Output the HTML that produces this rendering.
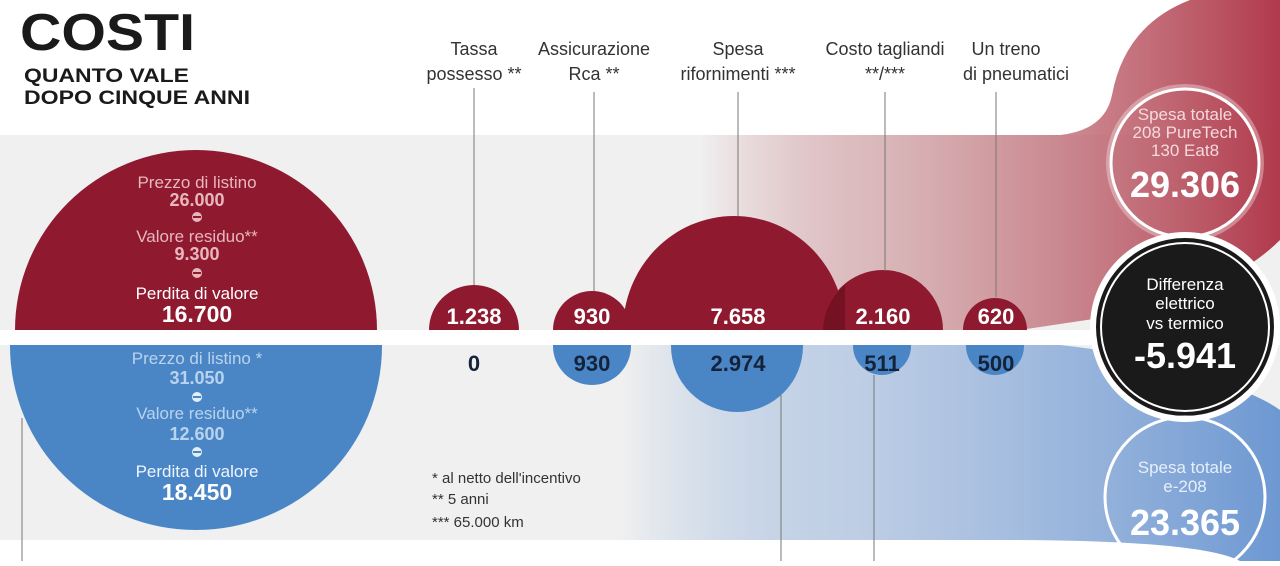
<!DOCTYPE html>
<html><head><meta charset="utf-8"><style>
body{margin:0;width:1280px;height:561px;overflow:hidden;background:#fff;font-family:"Liberation Sans",sans-serif}
</style></head><body>
<svg width="1280" height="561" viewBox="0 0 1280 561" xmlns="http://www.w3.org/2000/svg" font-family="Liberation Sans, sans-serif">
<defs>
<linearGradient id="rg" x1="0" x2="1"><stop offset="0" stop-color="#b8505c" stop-opacity="0"/><stop offset="0.3" stop-color="#c88c90" stop-opacity="0.55"/><stop offset="1" stop-color="#b13a4c"/></linearGradient>
<linearGradient id="bg" x1="0" x2="1"><stop offset="0" stop-color="#6f9bd3" stop-opacity="0"/><stop offset="0.35" stop-color="#aac0e0" stop-opacity="0.7"/><stop offset="1" stop-color="#6d98d2"/></linearGradient>
</defs>
<rect x="0" y="135" width="1280" height="405" fill="#f0f0f0"/>
<path d="M700 135 L1060 135 Q1105 130 1112 95 Q1125 25 1190 0 L1280 0 L1280 240 Q1230 290 1120 315 L1020 330 L700 330 Z" fill="url(#rg)"/>
<path d="M620 345 L1060 345 Q1150 355 1200 375 Q1260 395 1280 410 L1280 561 L1240 561 Q1200 540 1000 540 L620 540 Z" fill="url(#bg)"/>
<rect x="0" y="330" width="1280" height="15" fill="#fff"/>
<clipPath id="top"><rect x="0" y="0" width="1280" height="330"/></clipPath>
<clipPath id="bot"><rect x="0" y="345" width="1280" height="216"/></clipPath>
<g clip-path="url(#top)" fill="#8f1a30">
<ellipse cx="196" cy="330" rx="181" ry="180"/>
<circle cx="474" cy="330" r="45"/>
<circle cx="592" cy="330" r="39"/>
<ellipse cx="734" cy="330" rx="111" ry="114"/>
<circle cx="883" cy="330" r="60"/>
<circle cx="995" cy="330" r="32"/>
</g>
<g clip-path="url(#top)" fill="#5a0a18" opacity="0.5"><path d="M823 330 A60 60 0 0 1 845 285 L845 330Z"/></g>
<g clip-path="url(#bot)" fill="#4a86c6">
<ellipse cx="196" cy="346" rx="186" ry="184"/>
<circle cx="592" cy="346" r="39"/>
<circle cx="737" cy="346" r="66"/>
<circle cx="882" cy="346" r="29"/>
<circle cx="995" cy="346" r="29"/>
</g>
<g stroke="#777" stroke-width="1">
<line x1="474" y1="88" x2="474" y2="285"/><line x1="594" y1="92" x2="594" y2="291"/>
<line x1="738" y1="92" x2="738" y2="216"/><line x1="885" y1="92" x2="885" y2="271"/>
<line x1="996" y1="92" x2="996" y2="297"/>
<line x1="22" y1="418" x2="22" y2="561"/><line x1="781" y1="395" x2="781" y2="561"/><line x1="874" y1="375" x2="874" y2="561"/>
</g>
<text x="20" y="50" font-size="52" font-weight="bold" fill="#1a1a1a" textLength="175" lengthAdjust="spacingAndGlyphs">COSTI</text>
<text x="24" y="82" font-size="19" font-weight="bold" fill="#1a1a1a" textLength="165" lengthAdjust="spacingAndGlyphs">QUANTO VALE</text>
<text x="24" y="104" font-size="19" font-weight="bold" fill="#1a1a1a" textLength="226" lengthAdjust="spacingAndGlyphs">DOPO CINQUE ANNI</text>
<g font-size="18" fill="#333" text-anchor="middle">
<text x="474" y="55">Tassa</text><text x="474" y="80">possesso **</text>
<text x="594" y="55">Assicurazione</text><text x="594" y="80">Rca **</text>
<text x="738" y="55">Spesa</text><text x="738" y="80">rifornimenti ***</text>
<text x="885" y="55">Costo tagliandi</text><text x="885" y="80">**/***</text>
<text x="1006" y="55">Un treno</text><text x="1016" y="80">di pneumatici</text>
</g>
<g text-anchor="middle" fill="#e8b7bd" font-size="17">
<text x="197" y="188">Prezzo di listino</text>
<text x="197" y="206" font-weight="bold" font-size="18">26.000</text>
<text x="197" y="242">Valore residuo**</text>
<text x="197" y="260" font-weight="bold" font-size="18">9.300</text>
<text x="197" y="299" fill="#fff">Perdita di valore</text>
<text x="197" y="322" fill="#fff" font-weight="bold" font-size="23">16.700</text>
</g>
<g fill="#e8b7bd" stroke="#8f1a30" stroke-width="2"><circle cx="197" cy="217" r="6"/><circle cx="197" cy="273" r="6"/><line x1="193" y1="217" x2="201" y2="217"/><line x1="193" y1="273" x2="201" y2="273"/></g>
<g text-anchor="middle" fill="#b9d3ee" font-size="17">
<text x="197" y="364">Prezzo di listino *</text>
<text x="197" y="384" font-weight="bold" font-size="18">31.050</text>
<text x="197" y="419">Valore residuo**</text>
<text x="197" y="440" font-weight="bold" font-size="18">12.600</text>
<text x="197" y="477" fill="#eef5ff">Perdita di valore</text>
<text x="197" y="500" fill="#fff" font-weight="bold" font-size="23">18.450</text>
</g>
<g fill="#e4eefa" stroke="#4a86c6" stroke-width="2"><circle cx="197" cy="397" r="6"/><circle cx="197" cy="452" r="6"/><line x1="193" y1="397" x2="201" y2="397"/><line x1="193" y1="452" x2="201" y2="452"/></g>
<g text-anchor="middle" font-size="22" font-weight="bold" fill="#fff">
<text x="474" y="324">1.238</text><text x="592" y="324">930</text><text x="738" y="324">7.658</text><text x="883" y="324">2.160</text><text x="996" y="324">620</text>
</g>
<g text-anchor="middle" font-size="22" font-weight="bold" fill="#14233a">
<text x="474" y="371">0</text><text x="592" y="371">930</text><text x="738" y="371">2.974</text><text x="882" y="371">511</text><text x="996" y="371">500</text>
</g>
<g font-size="15" fill="#333"><text x="432" y="483">* al netto dell'incentivo</text><text x="432" y="504">** 5 anni</text><text x="432" y="527">*** 65.000 km</text></g>
<circle cx="1185" cy="163" r="76" fill="none" stroke="#f5e3e5" stroke-width="6" opacity="0.4"/>
<circle cx="1185" cy="163" r="74" fill="none" stroke="#fff" stroke-width="3"/>
<g text-anchor="middle" fill="#fff"><text x="1185" y="120" font-size="17" fill="#f3dadd">Spesa totale</text><text x="1185" y="138" font-size="17" fill="#f3dadd">208 PureTech</text><text x="1185" y="156" font-size="17" fill="#f3dadd">130 Eat8</text><text x="1185" y="197" font-size="36" font-weight="bold">29.306</text></g>
<circle cx="1185" cy="327" r="95" fill="#fff"/>
<circle cx="1185" cy="327" r="89" fill="#1a1a1a"/>
<circle cx="1185" cy="327" r="84" fill="none" stroke="#fff" stroke-width="2"/>
<g text-anchor="middle" fill="#fff"><text x="1185" y="290" font-size="17">Differenza</text><text x="1185" y="309" font-size="17">elettrico</text><text x="1185" y="329" font-size="17">vs termico</text><text x="1185" y="368" font-size="36" font-weight="bold">-5.941</text></g>
<circle cx="1185" cy="497" r="80" fill="none" stroke="#fff" stroke-width="3"/>
<g text-anchor="middle" fill="#fff"><text x="1185" y="473" font-size="17" fill="#e6effa">Spesa totale</text><text x="1185" y="492" font-size="17" fill="#e6effa">e-208</text><text x="1185" y="535" font-size="36" font-weight="bold">23.365</text></g>
</svg>
</body></html>
